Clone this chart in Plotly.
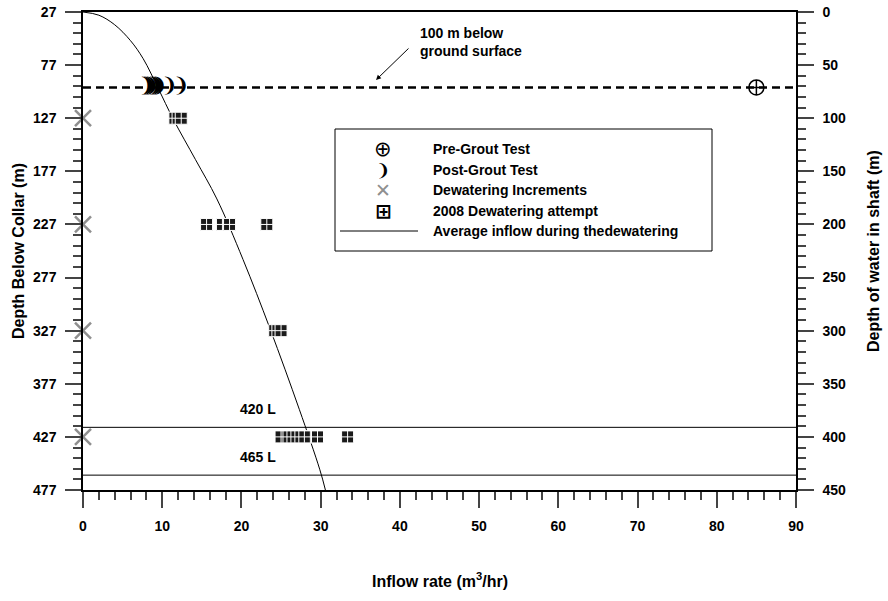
import plotly.graph_objects as go

# ---------------- data ----------------
pre_grout_x = [85]
pre_grout_depth = [98]

post_grout_x = [8.0, 8.3, 8.6, 9.0, 9.3, 9.6, 10.9, 12.4]
post_grout_depth = [98, 98, 98, 98, 98, 98, 98, 98]

dewater_inc_x = [0, 0, 0, 0]
dewater_inc_depth = [127, 227, 327, 427]

att2008_x = [11.6, 12.0, 12.4,
             15.6, 17.6, 18.5, 23.2,
             24.2, 24.6, 25.0,
             25.0, 26.0, 26.5, 27.0, 27.5, 28.0, 28.7, 29.6, 33.4]
att2008_depth = [127, 127, 127,
                 227, 227, 227, 227,
                 327, 327, 327,
                 427, 427, 427, 427, 427, 427, 427, 427, 427]

avg_x = [0, 2, 4, 6, 7.6, 9.5, 11.4, 14.2, 16.9, 20.2, 23.6, 27.3, 29.9, 30.6]
avg_depth = [27, 30, 39, 54, 71, 99, 128, 166, 203, 260, 325, 401, 458, 477]

ground_100m_depth = 98
level_depths = [418, 463]
level_labels = ["420 L", "465 L"]

x_range = [0, 90]
left_range = [477, 27]
right_range = [450, 0]

legend_labels = ["Pre-Grout Test", "Post-Grout Test", "Dewatering Increments",
                 "2008 Dewatering attempt", "Average inflow during thedewatering"]

# ---------------- layout helpers ----------------
W, H = 888, 601
L, R, T, B = 83, 796, 12, 490


def px(xp):
    return (xp - L) / (R - L)


def py(yp):
    return (B - yp) / (B - T)


FONT = "Liberation Sans, Arial, sans-serif"
CRESCENT = "❩"

fig = go.Figure()

fig.add_trace(go.Scatter(
    x=avg_x, y=avg_depth, mode="lines", line=dict(color="black", width=1, shape="spline"),
    showlegend=False, name=legend_labels[4]))

fig.add_trace(go.Scatter(
    x=dewater_inc_x, y=dewater_inc_depth, mode="markers", cliponaxis=False,
    marker=dict(symbol="x-thin-open", size=16, color="#8f8f8f", line=dict(color="#8f8f8f", width=2.5)),
    showlegend=False, name=legend_labels[2]))

fig.add_trace(go.Scatter(
    x=att2008_x, y=att2008_depth, mode="markers",
    marker=dict(symbol="square-cross", size=12, color="#1a1a1a",
                line=dict(color="white", width=1)),
    showlegend=False, name=legend_labels[3]))

fig.add_trace(go.Scatter(
    x=post_grout_x, y=post_grout_depth, mode="text", text=[CRESCENT] * len(post_grout_x),
    textfont=dict(family="DejaVu Sans", size=20, color="black", weight="bold"),
    textposition="middle center", showlegend=False, name=legend_labels[1]))

fig.add_trace(go.Scatter(
    x=pre_grout_x, y=pre_grout_depth, mode="markers",
    marker=dict(symbol="circle-cross-open", size=15, color="black", line=dict(color="black", width=1.5)),
    showlegend=False, name=legend_labels[0]))

# invisible trace to activate the right axis
fig.add_trace(go.Scatter(x=[None], y=[None], yaxis="y2", showlegend=False))

# reference lines
shapes = [
    dict(type="line", xref="paper", x0=0, x1=1, yref="y", y0=ground_100m_depth, y1=ground_100m_depth,
         line=dict(color="black", width=2.5, dash="8px,5px")),
]
for d in level_depths:
    shapes.append(dict(type="line", xref="paper", x0=0, x1=1, yref="y", y0=d, y1=d,
                       line=dict(color="black", width=1)))

annotations = []
for d, lab in zip(level_depths, level_labels):
    annotations.append(dict(xref="paper", x=px(238), yref="y", y=d, yshift=18, text=f"<b>{lab}</b>",
                            showarrow=False, font=dict(family=FONT, size=14, color="black")))

# 100 m annotation
annotations.append(dict(xref="paper", yref="paper", x=px(418), y=py(42), xanchor="left", yanchor="middle",
                        text="<b>100 m below<br>ground surface</b>", align="left", showarrow=False,
                        font=dict(family=FONT, size=14, color="black")))
annotations.append(dict(xref="paper", yref="paper", x=px(376), y=py(80), text="", showarrow=True,
                        axref="pixel", ayref="pixel", ax=34, ay=-33, arrowhead=2, arrowsize=1,
                        arrowwidth=1, arrowcolor="black"))

# manual legend
shapes.append(dict(type="rect", xref="paper", yref="paper", x0=px(335), x1=px(712), y0=py(129), y1=py(251),
                   line=dict(color="black", width=1), fillcolor="white", layer="above"))
rows = [149, 170, 190, 211, 231]
syms = [("⊕", "black", 21, "normal"), (CRESCENT, "black", 17, "bold"),
        ("✕", "#8f8f8f", 19, "normal"), ("⊞", "black", 20, "bold")]
for (s, c, fs, wt), yy in zip(syms, rows[:4]):
    annotations.append(dict(xref="paper", yref="paper", x=px(383), y=py(yy), xanchor="center", yanchor="middle",
                            text=s, showarrow=False,
                            font=dict(family="DejaVu Sans", size=fs, color=c, weight=wt)))
shapes.append(dict(type="line", xref="paper", yref="paper", x0=px(340), x1=px(418), y0=py(rows[4]), y1=py(rows[4]),
                   line=dict(color="black", width=1), layer="above"))
for lab, yy in zip(legend_labels, rows):
    annotations.append(dict(xref="paper", yref="paper", x=px(431), y=py(yy), xanchor="left", yanchor="middle",
                            text=f"<b>{lab}</b>", showarrow=False, font=dict(family=FONT, size=14, color="black")))

# axis titles
annotations.append(dict(xref="paper", yref="paper", x=px(18), y=0.5, xanchor="center", yanchor="middle",
                        text="<b>Depth Below Collar (m)</b>",
                        textangle=-90, showarrow=False, font=dict(family=FONT, size=16, color="black")))
annotations.append(dict(xref="paper", yref="paper", x=px(873), y=0.5, xanchor="center", yanchor="middle",
                        text="<b>Depth of water in shaft (m)</b>",
                        textangle=-90, showarrow=False, font=dict(family=FONT, size=16, color="black")))
annotations.append(dict(xref="paper", yref="paper", x=0.5, y=py(580), xanchor="center", yanchor="middle",
                        text="<b>Inflow rate (m<sup>3</sup>/hr)</b>",
                        showarrow=False, font=dict(family=FONT, size=16, color="black")))

tickfont = dict(family=FONT, size=14, color="black", weight="bold")

fig.update_layout(
    width=W, height=H, margin=dict(l=L, r=W - R, t=T, b=H - B, autoexpand=False),
    plot_bgcolor="white", paper_bgcolor="white", showlegend=False,
    shapes=shapes, annotations=annotations,
    xaxis=dict(range=x_range, tick0=0, dtick=10, ticks="outside", ticklen=16, tickwidth=1.5,
               showline=True, linecolor="black", linewidth=1.5, mirror=True, showgrid=False, zeroline=False,
               tickfont=tickfont, ticklabelstandoff=6, automargin=False,
               minor=dict(tick0=0, dtick=2, ticks="outside", ticklen=8, tickwidth=1.5, showgrid=False)),
    yaxis=dict(range=left_range, tick0=27, dtick=50, ticks="outside", ticklen=16, tickwidth=1.5,
               showline=True, linecolor="black", linewidth=1.5, showgrid=False, zeroline=False,
               tickfont=tickfont, ticklabelstandoff=6, automargin=False,
               minor=dict(tick0=27, dtick=10, ticks="outside", ticklen=8, tickwidth=1.5, showgrid=False)),
    yaxis2=dict(range=right_range, overlaying="y", side="right", tick0=0, dtick=50, ticks="outside",
                ticklen=16, tickwidth=1.5, showline=True, linecolor="black", linewidth=1.5,
                showgrid=False, zeroline=False, tickfont=tickfont, ticklabelstandoff=6, automargin=False,
                minor=dict(tick0=0, dtick=10, ticks="outside", ticklen=8, tickwidth=1.5, showgrid=False)),
)

fig.write_html("out.html")
